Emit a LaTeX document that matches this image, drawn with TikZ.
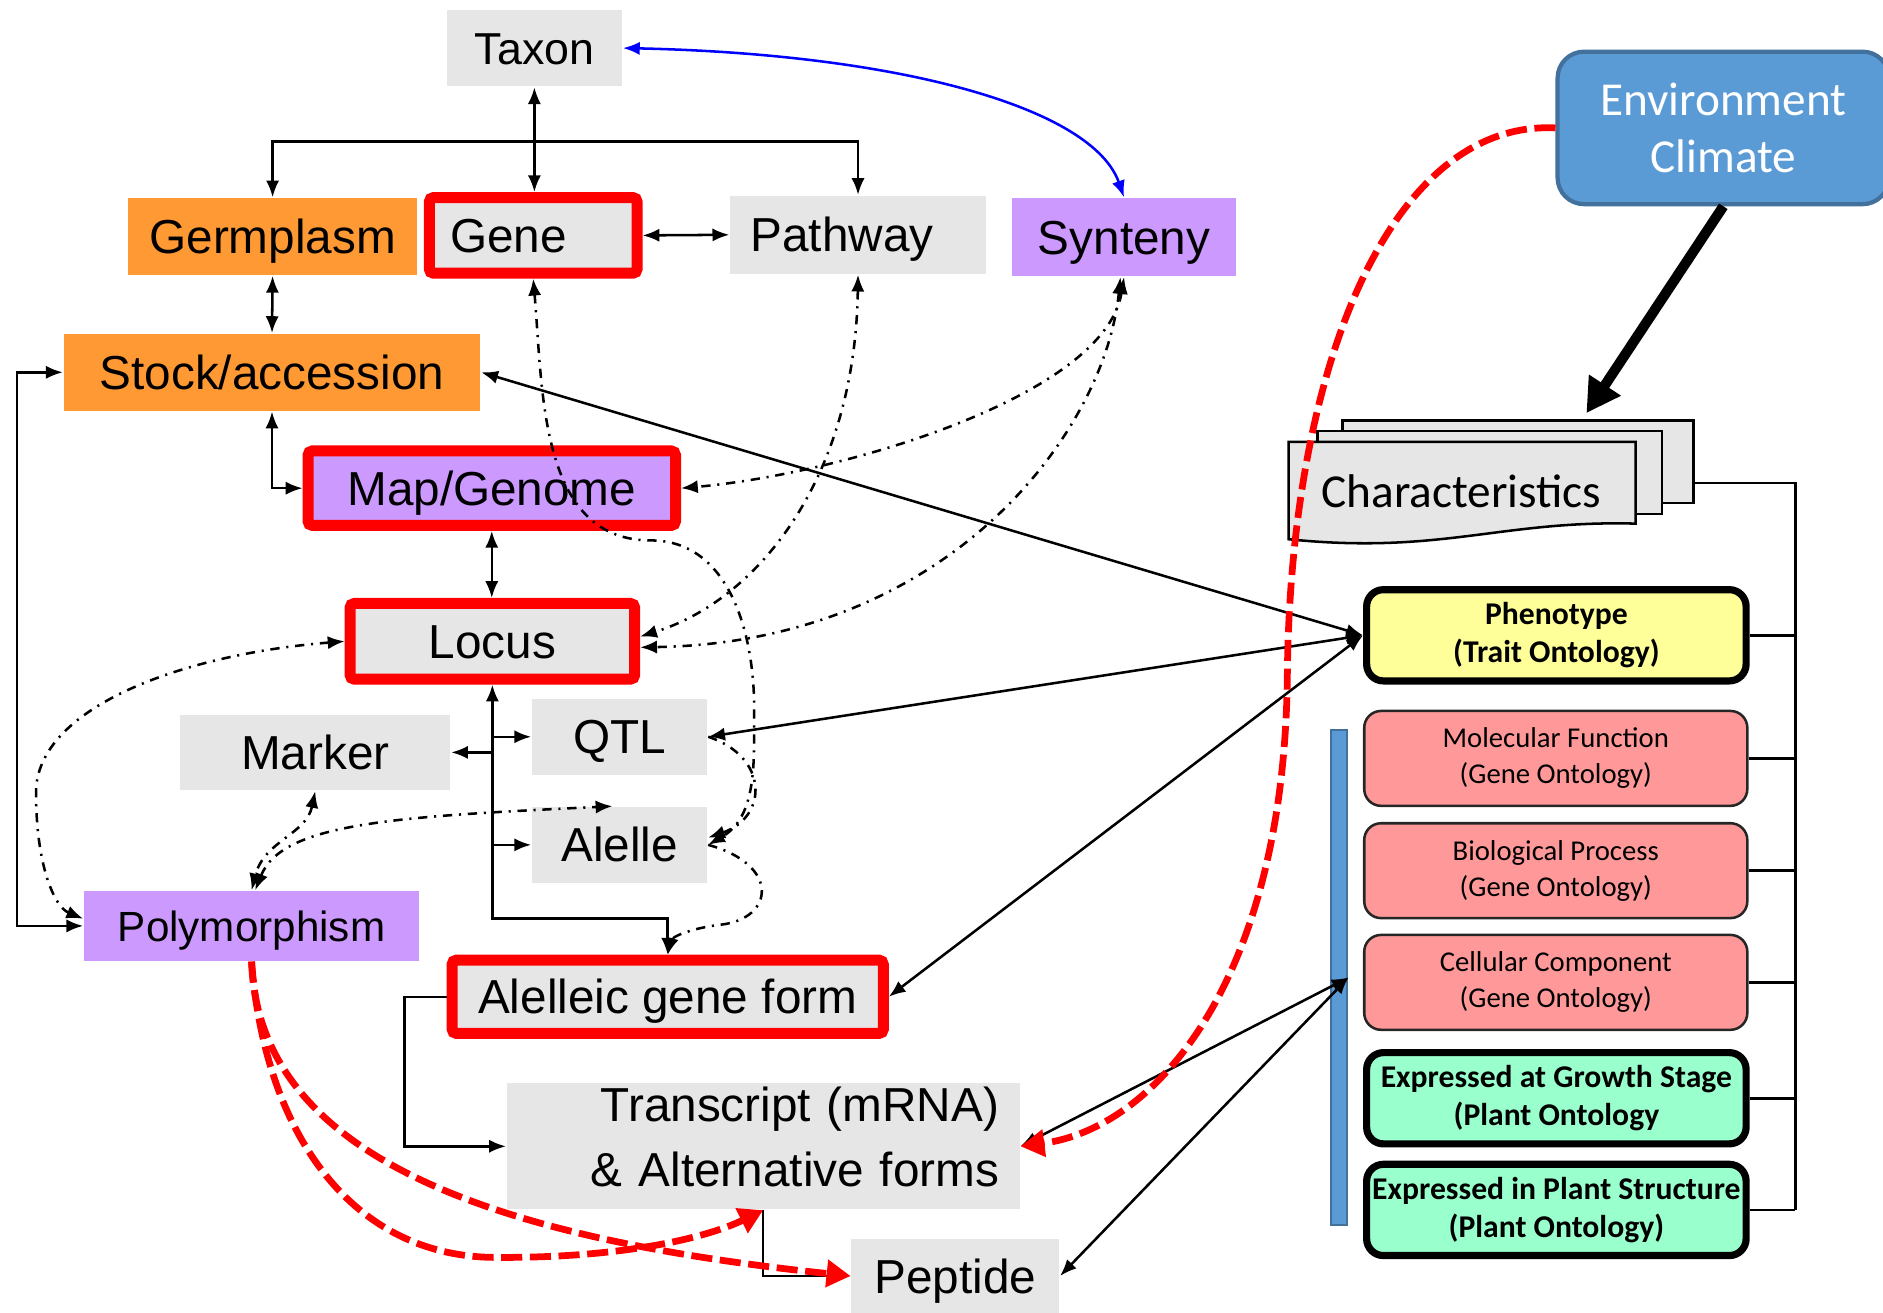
\documentclass[tikz,border=0pt]{standalone}
\usepackage{fontspec}
\setmainfont{Liberation Sans}
\newfontfamily\calibri{Carlito}
\usepackage{tikz}
\usetikzlibrary{arrows.meta,calc}
\definecolor{boxgray}{HTML}{E6E6E6}
\definecolor{germ}{HTML}{FF9933}
\definecolor{lilac}{HTML}{CC99FF}
\definecolor{envblue}{HTML}{5B9BD5}
\definecolor{envline}{HTML}{41719C}
\definecolor{traitylw}{HTML}{FFFF99}
\definecolor{gopink}{HTML}{FF9999}
\definecolor{pomint}{HTML}{99FFCC}

\tikzset{
  box/.style={rectangle,inner sep=0pt,font=\fontsize{11.3}{13.5}\selectfont},
  capline/.style={text height=0.285cm,text depth=0pt},
  graybox/.style={box,capline,fill=boxgray},
  orangebox/.style={box,capline,fill=germ},
  lilacbox/.style={box,capline,fill=lilac},
  redframe/.style={draw=red,line width=2.6pt,rounded corners=1pt},
  onto/.style={rectangle,inner sep=0pt,rounded corners=1.4mm,align=center},
  gobox/.style={onto,draw=black!85,line width=0.6pt,fill=gopink,minimum width=3.19cm,minimum height=0.79cm,
    font=\calibri\fontsize{6.8}{8.5}\selectfont},
  boldonto/.style={onto,draw=black,line width=1.7pt,minimum width=3.16cm,minimum height=0.76cm,
    font=\calibri\bfseries\fontsize{7.5}{9.1}\selectfont},
  link/.style={line width=0.6pt},
  dashdot/.style={line width=0.6pt,dash pattern=on 2.2pt off 1.6pt on 0.5pt off 1.6pt},
  reddash/.style={red,line width=1.6pt,dash pattern=on 5pt off 1.8pt,-{Triangle[length=2mm,width=2.2mm]}}
}

\begin{document}
\begin{tikzpicture}[x=1cm,y=1cm,>={Latex[length=1.4mm,width=1.1mm]}]
\useasboundingbox (0,0) rectangle (15.68,-10.93);

% entity boxes
\node[graybox,minimum width=1.46cm,minimum height=0.64cm,font=\fontsize{10.6}{12}\selectfont,text height=0.267cm] (taxon) at (4.45,-0.40) {Taxon};
\node[orangebox,minimum width=2.40cm,minimum height=0.64cm] (germ) at (2.27,-1.97) {Germplasm};
\node[graybox,redframe,minimum width=1.73cm,minimum height=0.63cm,text width=1.38cm,align=left] (gene) at (4.44,-1.96) {Gene};
\node[graybox,minimum width=2.13cm,minimum height=0.65cm,text width=1.79cm,align=left] (path) at (7.145,-1.955) {Pathway};
\node[lilacbox,minimum width=1.86cm,minimum height=0.65cm] (synt) at (9.36,-1.975) {Synteny};
\node[orangebox,minimum width=3.47cm,minimum height=0.64cm] (stock) at (2.265,-3.10) {Stock/accession};
\node[lilacbox,redframe,minimum width=3.06cm,minimum height=0.62cm] (map) at (4.095,-4.065) {Map/Genome};
\node[graybox,redframe,minimum width=2.37cm,minimum height=0.63cm] (locus) at (4.10,-5.34) {Locus};
\node[graybox,minimum width=2.25cm,minimum height=0.63cm] (marker) at (2.625,-6.265) {Marker};
\node[graybox,minimum width=1.46cm,minimum height=0.63cm] (qtl) at (5.16,-6.135) {QTL};
\node[graybox,minimum width=1.46cm,minimum height=0.63cm] (alelle) at (5.16,-7.035) {Alelle};
\node[lilacbox,minimum width=2.79cm,minimum height=0.58cm,font=\fontsize{10}{12}\selectfont,text height=0.252cm] (poly) at (2.095,-7.71) {Polymorphism};
\node[graybox,redframe,minimum width=3.59cm,minimum height=0.61cm] (agf) at (5.56,-8.30) {Alelleic gene form};
\node[box,fill=boxgray,minimum width=4.27cm,minimum height=1.05cm,text width=3.93cm,align=right,font=\fontsize{11.3}{15.6}\selectfont] (trans) at (6.355,-9.545) {Transcript (mRNA)\\\& Alternative forms\rule[-0.16cm]{0pt}{0.1pt}};
\node[graybox,minimum width=1.73cm,minimum height=0.61cm] (pep) at (7.955,-10.625) {Peptide};

% environment and characteristics
\node[draw=envline,fill=envblue,line width=1pt,rounded corners=0.22cm,minimum width=2.76cm,minimum height=1.27cm,
  inner sep=0pt,text=white,align=center,font=\calibri\fontsize{11.2}{13.7}\selectfont] (env) at (14.35,-1.065) {Environment\\Climate};
\filldraw[fill=boxgray,line width=0.6pt] (11.18,-3.50) rectangle (14.10,-4.19);
\filldraw[fill=boxgray,line width=0.6pt] (10.97,-3.59) rectangle (13.84,-4.28);
\filldraw[fill=boxgray,line width=0.6pt] (10.73,-3.68) -- (13.62,-3.68) -- (13.62,-4.36)
  .. controls (12.5,-4.33) and (12.0,-4.62) .. (10.73,-4.49) -- cycle;
\node[font=\calibri\fontsize{11.2}{13}\selectfont] (chars) at (12.17,-4.09) {Characteristics};
\coordinate (chartop) at (13.21,-3.44);
\coordinate (charright) at (14.10,-4.02);

% ontology column
\node[boldonto,fill=traitylw] (pheno) at (12.96,-5.29) {Phenotype\\(Trait Ontology)};
\node[gobox] (mf) at (12.955,-6.315) {Molecular Function\\(Gene Ontology)};
\node[gobox] (bp) at (12.955,-7.25) {Biological Process\\(Gene Ontology)};
\node[gobox] (cc) at (12.955,-8.18) {Cellular Component\\(Gene Ontology)};
\node[boldonto,fill=pomint] (egs) at (12.96,-9.145) {Expressed at Growth Stage\\(Plant Ontology};
\node[boldonto,fill=pomint] (eps) at (12.96,-10.075) {Expressed in Plant Structure\\(Plant Ontology)};
\node[draw=envline,fill=envblue,line width=0.5pt,minimum width=0.14cm,minimum height=4.12cm,inner sep=0pt] (bar) at (11.15,-8.14) {};

\coordinate (brk) at (14.95,-4.02);
\draw[link] (charright) -- (brk) -- (brk |- eps.east);
\foreach \b in {pheno,mf,bp,cc,egs,eps}
  \draw[link] (\b.east) -- (\b.east -| brk);

% solid connectors
\coordinate (split) at (4.45,-1.18);
\draw[link,<->] (taxon.south) -- (taxon.south |- gene.north);
\draw[link,->] (split) -| (germ.north);
\draw[link,->] (split) -| (path.north);
\draw[link,<->] (gene.east) -- (path.west);
\draw[link,<->] (germ.south) -- (stock.north);
\draw[link,<->] (stock.south) |- (map.west);
\draw[link,<->] (map.south) -- (map.south |- locus.north);
\coordinate (trunk) at (4.10,-7.65);
\draw[link,<->] (locus.south) -- (trunk) -| (agf.north);
\draw[link,->] (locus.south |- marker.east) -- (marker.east);
\draw[link,->] (locus.south |- qtl.west) -- (qtl.west);
\draw[link,->] (locus.south |- alelle.west) -- (alelle.west);
\coordinate (lbar) at (0.14,-3.10);
\draw[link,<->] (stock.west) -- (lbar) |- (poly.west);
\coordinate (tbend) at (3.37,-8.30);
\draw[link,->] (agf.west) -- (tbend) |- (trans.west);
\draw[link,->] (trans.south) |- (pep.west);
\draw[link,<->] (stock.east) -- (pheno.west);
\draw[link,<->] (qtl.east) -- (pheno.west);
\draw[link,<->] (agf.east) -- (pheno.west);
\draw[link,<->] (trans.east) -- (bar.east);
\draw[link,<->] (pep.east) -- (bar.east);
\draw[blue,link,<->] (taxon.east) .. controls (7.5,-0.45) and (9.1,-0.9) .. (synt.north);
\draw[line width=2.4pt,-{Triangle[length=2.8mm,width=3mm]}] (env.south) -- (chartop);

% dash-dot links
\draw[dashdot,<->] (gene.south) to[out=-85,in=180] (5.42,-4.50) to[out=0,in=90] (6.28,-5.9) to[out=-90,in=30] (alelle.east);
\draw[dashdot,->] (qtl.east) .. controls (6.4,-6.3) and (6.4,-6.8) .. ([yshift=0.06cm]alelle.east);
\draw[dashdot,->] (alelle.east) .. controls (6.5,-7.2) and (6.45,-7.65) .. (6.0,-7.7) .. controls (5.75,-7.73) and (5.6,-7.8) .. (agf.north);
\draw[dashdot,<->] (path.south) .. controls (7.12,-4.0) and (6.3,-5.0) .. ([yshift=0.04cm]locus.east);
\draw[dashdot,<->] (synt.south) .. controls (9.2,-3.3) and (7.0,-3.95) .. (map.east);
\draw[dashdot,<->] ([xshift=-0.03cm]synt.south) .. controls (9.2,-3.6) and (7.9,-5.35) .. ([yshift=-0.05cm]locus.east);
\draw[dashdot,<->] (locus.west) .. controls (1.5,-5.45) and (0.30,-5.9) .. (0.30,-6.6) .. controls (0.30,-7.2) and (0.45,-7.55) .. ([yshift=0.06cm]poly.west);
\draw[dashdot,<->] (marker.south) .. controls (2.55,-6.95) and (2.2,-7.0) .. (poly.north);
\draw[dashdot,<->] ([xshift=0.03cm]poly.north) .. controls (2.35,-6.85) and (3.3,-6.8) .. ([xshift=-0.06cm]alelle.north);

% red dashed links
\draw[reddash] (poly.south) .. controls (2.15,-9.6) and (4.0,-10.3) .. (pep.west);
\draw[reddash] (poly.south) .. controls (2.2,-9.4) and (2.9,-10.45) .. (4.1,-10.47) .. controls (5.2,-10.48) and (5.9,-10.3) .. (trans.south);
\draw[reddash] (env.west) .. controls (11.6,-1.0) and (10.75,-3.0) .. (10.72,-5.6) .. controls (10.7,-8.2) and (9.6,-9.4) .. (trans.east);
\end{tikzpicture}
\end{document}
